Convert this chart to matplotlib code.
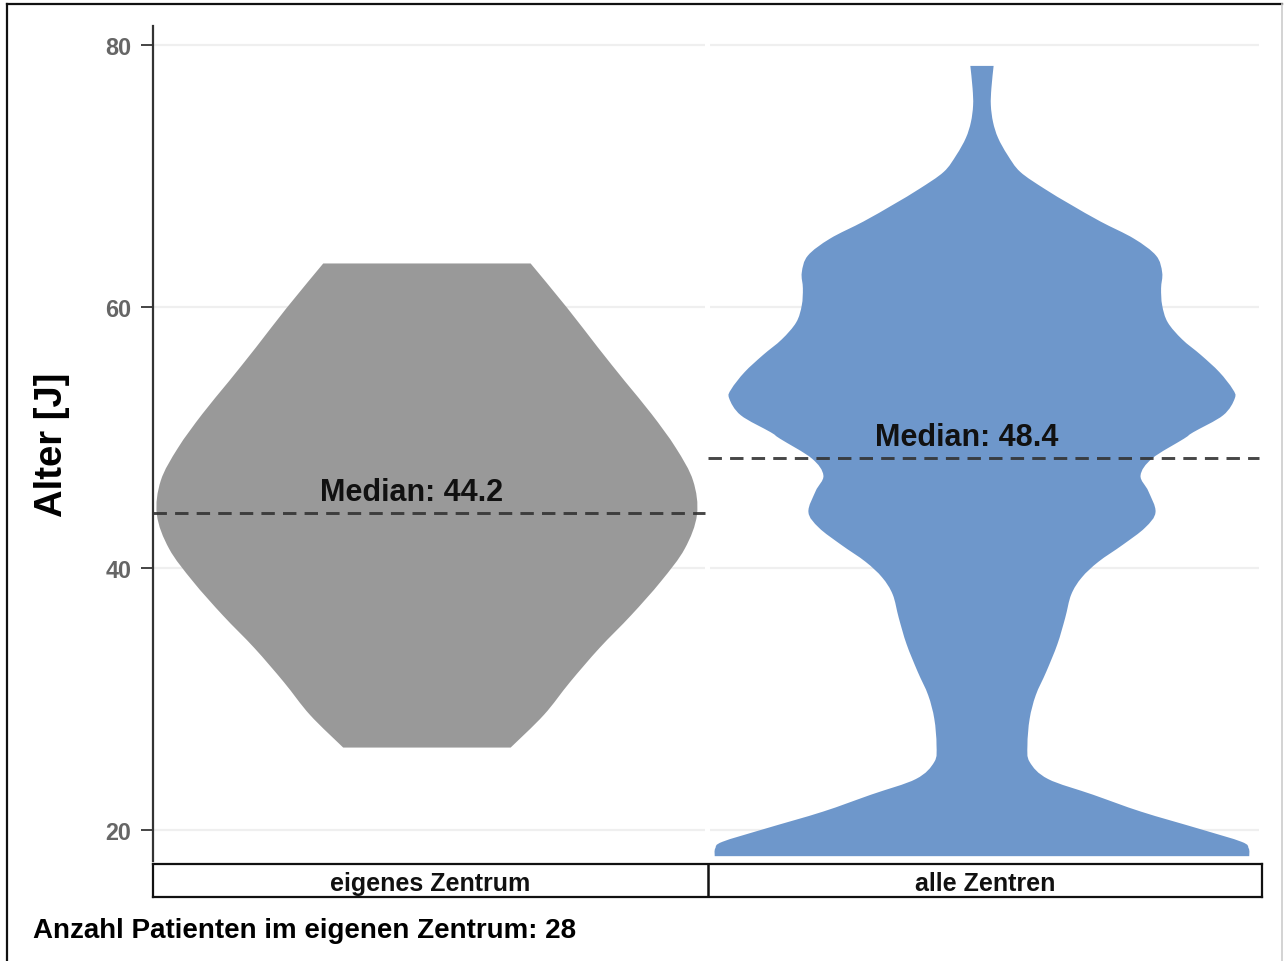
import numpy as np
import matplotlib
matplotlib.use("Agg")
import matplotlib.pyplot as plt
from matplotlib.path import Path
from matplotlib.patches import PathPatch
from matplotlib.lines import Line2D

plt.rcParams["font.family"] = ["Liberation Sans", "DejaVu Sans"]

# ---- data -------------------------------------------------------------
categories = ["eigenes Zentrum", "alle Zentren"]
positions = [0.494, 1.495]
medians = [44.2, 48.4]
n_patients_own = 28

# violin outline: age [J] and half-width of the density at that age
own_age = [26.3, 28.8, 31.3, 33.9, 36.4, 39.0, 41.5, 44.1, 46.7, 49.2,
           51.8, 54.3, 56.9, 59.9, 63.3]
own_half = [0.151, 0.211, 0.258, 0.311, 0.368, 0.422, 0.465, 0.487, 0.480,
            0.449, 0.405, 0.357, 0.308, 0.253, 0.187]

all_age = [18.0, 18.6, 19.1, 20.1, 21.4, 22.7, 23.9, 25.2, 26.5, 28.5,
           30.3, 32.1, 34.2, 36.2, 38.0, 39.3, 40.5, 41.8, 43.1, 44.3,
           45.9, 47.1, 48.4, 49.9, 50.4, 51.7, 53.0, 53.7, 55.0, 56.3,
           57.5, 58.8, 60.1, 61.4, 62.6, 63.9, 65.2, 66.5, 67.8, 69.0,
           70.3, 71.6, 72.9, 74.1, 75.4, 76.7, 78.4]
all_half = [0.482, 0.481, 0.468, 0.391, 0.287, 0.200, 0.119, 0.086, 0.082,
            0.086, 0.097, 0.116, 0.136, 0.150, 0.161, 0.180, 0.210, 0.254,
            0.294, 0.313, 0.300, 0.286, 0.307, 0.364, 0.381, 0.435, 0.456,
            0.452, 0.428, 0.395, 0.361, 0.335, 0.325, 0.323, 0.325, 0.314,
            0.274, 0.214, 0.160, 0.113, 0.069, 0.046, 0.029, 0.020, 0.016,
            0.017, 0.021]

violin_colors = ["#999999", "#6e97cb"]
y_ticks = [20, 40, 60, 80]

W, H = 1284, 962
fig = plt.figure(figsize=(W / 100, H / 100), dpi=100)


def fx(px):
    return px / W


def fy(py):
    return 1 - py / H


ax = fig.add_axes([fx(153), fy(862), fx(1262) - fx(153), fy(27) - fy(862)])
ax.set_xlim(0, 2)
ax.set_ylim(17.63, 81.45)


def smooth_side(pts):
    """Catmull-Rom curve through pts, returned as Bezier vertices/codes."""
    pts = np.asarray(pts, float)
    verts, codes = [], []
    n = len(pts)
    for i in range(n - 1):
        p0 = pts[max(i - 1, 0)]
        p1 = pts[i]
        p2 = pts[i + 1]
        p3 = pts[min(i + 2, n - 1)]
        c1 = p1 + (p2 - p0) / 6.0
        c2 = p2 - (p3 - p1) / 6.0
        verts += [tuple(c1), tuple(c2), tuple(p2)]
        codes += [Path.CURVE4] * 3
    return verts, codes


def violin_path(center, ages, halves):
    ages = np.asarray(ages, float)
    halves = np.asarray(halves, float)
    right = np.column_stack([center + halves, ages])
    left = np.column_stack([center - halves, ages])[::-1]
    verts = [tuple(right[0])]
    codes = [Path.MOVETO]
    v, c = smooth_side(right)
    verts += v
    codes += c
    verts.append(tuple(left[0]))
    codes.append(Path.LINETO)
    v, c = smooth_side(left)
    verts += v
    codes += c
    verts.append(tuple(right[0]))
    codes.append(Path.CLOSEPOLY)
    return Path(verts, codes)


# grid lines, split per category cell
for t in y_ticks:
    ax.hlines(t, 0.0, 0.995, color="#efefef", lw=1.6, zorder=0)
    ax.hlines(t, 1.004, 1.9946, color="#efefef", lw=1.6, zorder=0)

profiles = [(own_age, own_half), (all_age, all_half)]
for pos, (ages, halves), col in zip(positions, profiles, violin_colors):
    patch = PathPatch(violin_path(pos, ages, halves), facecolor=col,
                      edgecolor="none", zorder=2)
    ax.add_patch(patch)

# median lines with labels
for i, m in enumerate(medians):
    x0, x1 = (0.0, 0.996) if i == 0 else (1.0, 1.9946)
    ax.plot([x0, x1], [m, m], color="#333333", lw=2.1,
            linestyle=(0, (4.6, 2.8)), alpha=0.9, zorder=3,
            solid_capstyle="butt", dash_capstyle="butt")
    ax.annotate(f"Median: {m:.1f}", xy=(i + 0.467, m), xytext=(0, 9.5),
                textcoords="offset points", ha="center", va="baseline",
                fontsize=22, fontweight="bold", color="#111111", zorder=4)

# axes styling
for s in ["top", "right", "bottom"]:
    ax.spines[s].set_visible(False)
ax.spines["left"].set_color("#333333")
ax.spines["left"].set_linewidth(1.6)
ax.set_xticks([])
ax.set_yticks(y_ticks)
ax.set_yticklabels([str(t) for t in y_ticks])
ax.tick_params(axis="y", direction="out", length=8.5, width=1.4,
               color="#444444", pad=7, labelsize=16.8, labelcolor="#666666")
for lbl in ax.get_yticklabels():
    lbl.set_fontweight("bold")

# category strip below the plot
sax = fig.add_axes([fx(153), fy(897.5), fx(1262) - fx(153), fy(865) - fy(897.5)])
sax.set_xlim(0, 2)
sax.set_ylim(0, 1)
sax.set_xticks([])
sax.set_yticks([])
for s in sax.spines.values():
    s.set_color("#111111")
    s.set_linewidth(1.6)
sax.axvline(1, color="#111111", lw=1.8)
for i, cat in enumerate(categories):
    sax.text(i + 0.5, 0.2, cat, ha="center", va="baseline", fontsize=18,
             fontweight="bold", color="#111111")

# y axis title and footnote
fig.text(fx(52), fy(445), "Alter [J]", rotation=90, ha="center", va="center",
         fontsize=27.5, fontweight="bold", color="#000000")
fig.text(fx(33), fy(938), f"Anzahl Patienten im eigenen Zentrum: {n_patients_own}",
         ha="left", va="baseline", fontsize=20, fontweight="bold",
         color="#000000")

# frame around the figure
fig.add_artist(Line2D([fx(7), fx(1282)], [fy(5), fy(5)], color="#111111",
                      lw=1.6, transform=fig.transFigure))
fig.add_artist(Line2D([fx(7), fx(7)], [fy(5), 0], color="#111111",
                      lw=1.6, transform=fig.transFigure))
fig.add_artist(Line2D([fx(1282), fx(1282)], [fy(5), 0], color="#cccccc",
                      lw=1.2, transform=fig.transFigure))

fig.savefig("out.png", dpi=100)
